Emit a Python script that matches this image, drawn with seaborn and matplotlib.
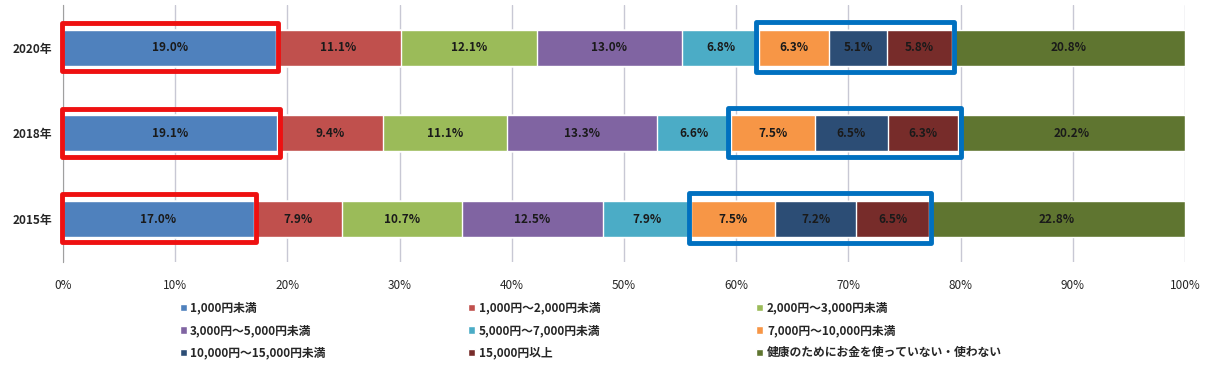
import numpy as np
import pandas as pd
import seaborn as sns
import matplotlib.pyplot as plt
from matplotlib.patches import Patch, Rectangle

# データ
years = ['2020年', '2018年', '2015年']
categories = ['1,000円未満', '1,000円～2,000円未満', '2,000円～3,000円未満',
              '3,000円～5,000円未満', '5,000円～7,000円未満', '7,000円～10,000円未満',
              '10,000円～15,000円未満', '15,000円以上', '健康のためにお金を使っていない・使わない']
v2020 = [19.0, 11.1, 12.1, 13.0, 6.8, 6.3, 5.1, 5.8, 20.8]
v2018 = [19.1, 9.4, 11.1, 13.3, 6.6, 7.5, 6.5, 6.3, 20.2]
v2015 = [17.0, 7.9, 10.7, 12.5, 7.9, 7.5, 7.2, 6.5, 22.8]
colors = ['#4F81BD', '#C0504D', '#9BBB59', '#8064A2', '#4BACC6',
          '#F79646', '#2C4D75', '#772C2A', '#5F7530']

df = pd.DataFrame([v2020, v2018, v2015], index=years, columns=categories)
cum = df.cumsum(axis=1)

sns.set_style('white')
plt.rcParams['font.family'] = ['Noto Sans CJK JP', 'DejaVu Sans']

fig = plt.figure(figsize=(12.17, 3.76), dpi=100)
ax = fig.add_axes([0.0518, 0.303, 0.9219, 0.684])

# 累積値を後ろから描いて積み上げ棒にする
for i in range(len(categories) - 1, -1, -1):
    sns.barplot(x=cum[categories[i]].values, y=years, orient='y', color=colors[i],
                width=0.42, saturation=1, ax=ax, zorder=2)

# ラベル
for r, year in enumerate(years):
    for i, cat in enumerate(categories):
        mid = cum.loc[year, cat] - df.loc[year, cat] / 2
        ax.text(mid, r, f'{df.loc[year, cat]:.1f}%', ha='center', va='center',
                fontsize=8.5, fontweight='bold', color='#1a1a1a', zorder=3)

# 強調枠
for r, year in enumerate(years):
    end = cum.loc[year, categories[0]]
    ax.add_patch(Rectangle((-0.1, r - 0.29), end + 0.3, 0.56, fill=False,
                           edgecolor='#EE1111', lw=3.5, zorder=4, clip_on=False,
                           joinstyle='round'))
    start = cum.loc[year, categories[4]]
    end = cum.loc[year, categories[7]]
    ax.add_patch(Rectangle((start - 0.2, r - 0.30), end - start + 0.4, 0.58, fill=False,
                           edgecolor='#0070C0', lw=3.5, zorder=4, clip_on=False,
                           joinstyle='round'))

ax.set_xlim(0, 100)
ax.set_ylim(2.5, -0.5)
ax.set_xticks(np.arange(0, 101, 10))
ax.set_xticklabels([f'{t}%' for t in range(0, 101, 10)], fontsize=8.5)
ax.tick_params(axis='y', labelsize=8.5, length=0, pad=8)
for lab in ax.get_yticklabels():
    lab.set_fontweight('bold')
ax.tick_params(axis='x', length=0, pad=12)
ax.xaxis.grid(True, color='#C8C8D4', lw=1, zorder=0)
ax.set_axisbelow(True)
ax.set_xlabel('')
ax.set_ylabel('')
for s in ['top', 'right', 'bottom']:
    ax.spines[s].set_visible(False)
ax.spines['left'].set_color('#A0A0A0')

# 凡例（3列をそれぞれ配置）
handles = [Patch(facecolor=c, label=l) for c, l in zip(colors, categories)]
col_x = [0.1475, 0.3845, 0.6215]
for c in range(3):
    idx = [c, c + 3, c + 6]
    leg = fig.legend([handles[k] for k in idx], [categories[k] for k in idx],
                     loc='upper left', bbox_to_anchor=(col_x[c], 0.198), ncol=1,
                     frameon=False, fontsize=8.5, handlelength=0.6, handleheight=0.6,
                     handletextpad=0.3, labelspacing=0.8, borderaxespad=0,
                     borderpad=0)
    for t in leg.get_texts():
        t.set_fontweight('bold')

fig.savefig('out.png', dpi=100)
